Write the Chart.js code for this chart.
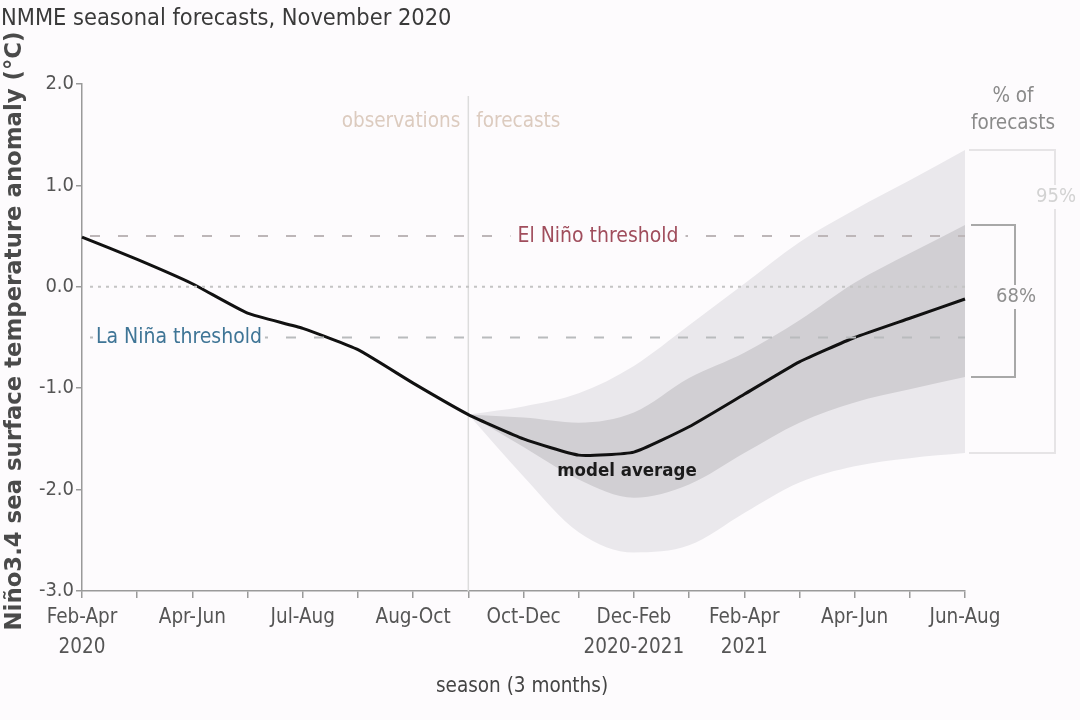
<!DOCTYPE html>
<html>
<head>
<meta charset="utf-8">
<script src="https://cdn.jsdelivr.net/npm/chart.js@4"></script>
<style>
  html, body { margin: 0; padding: 0; background: #fdfbfd; }
  #wrap { width: 1080px; height: 720px; }
</style>
</head>
<body>
<div id="wrap"><canvas id="chart" width="1080" height="720"></canvas></div>
<script>
// Seasons (3-month running), Feb-Apr 2020 .. Jun-Aug 2021
const seasons = ['FMA 2020', 'MAM', 'AMJ', 'MJJ', 'JJA', 'JAS', 'ASO', 'SON',
  'OND', 'NDJ', 'DJF', 'JFM', 'FMA 2021', 'MAM', 'AMJ', 'MJJ', 'JJA'];
const tickLabels = [['Feb-Apr', '2020'], '', 'Apr-Jun', '', 'Jul-Aug', '', 'Aug-Oct', '',
  'Oct-Dec', '', ['Dec-Feb', '2020-2021'], '', ['Feb-Apr', '2021'], '', 'Apr-Jun', '', 'Jun-Aug'];
const yTicks = [-3, -2, -1, 0, 1, 2];

// Model average (observations up to SON, forecasts after)
const modelAverage = [0.49, 0.27, 0.03, -0.26, -0.41, -0.62, -0.95, -1.26,
  -1.50, -1.66, -1.63, -1.38, -1.06, -0.74, -0.50, -0.31, -0.12];
// spread of the forecasts
const upper95 = [null, null, null, null, null, null, null, -1.26,
  -1.18, -1.05, -0.78, -0.38, 0.03, 0.44, 0.76, 1.05, 1.35];
const lower95 = [null, null, null, null, null, null, null, -1.26,
  -1.87, -2.42, -2.62, -2.55, -2.23, -1.93, -1.77, -1.69, -1.64];
const upper68 = [null, null, null, null, null, null, null, -1.26,
  -1.29, -1.34, -1.24, -0.90, -0.65, -0.33, 0.04, 0.33, 0.61];
const lower68 = [null, null, null, null, null, null, null, -1.26,
  -1.58, -1.90, -2.08, -1.95, -1.64, -1.34, -1.14, -1.01, -0.89];

const elNinoThreshold = 0.5;
const laNinaThreshold = -0.5;
const lastObserved = 7; // index of SON 2020

const FONT = "'DejaVu Sans Condensed', 'DejaVu Sans', sans-serif";
const WIDE = "'DejaVu Sans', sans-serif";
const BG = '#fdfbfd';

Chart.defaults.font.family = FONT;

function text(ctx, str, x, y, opt) {
  ctx.save();
  ctx.font = opt.font;
  ctx.textAlign = opt.align || 'center';
  ctx.textBaseline = 'middle';
  if (opt.bg) {
    const w = ctx.measureText(str).width;
    let x0 = x - w / 2;
    if (ctx.textAlign === 'left') x0 = x;
    if (ctx.textAlign === 'right') x0 = x - w;
    ctx.fillStyle = opt.bg;
    ctx.fillRect(x0 - (opt.padX || 4), y - 12, w + 2 * (opt.padX || 4), 24);
  }
  ctx.fillStyle = opt.color;
  ctx.fillText(str, x, y);
  ctx.restore();
}

// font size that makes str about `width` px wide
function fitFont(ctx, str, width, weight, family) {
  ctx.save();
  ctx.font = weight + ' 20px ' + family;
  const size = 20 * width / ctx.measureText(str).width;
  ctx.restore();
  return weight + ' ' + size.toFixed(1) + 'px ' + family;
}

function hline(ctx, area, y, dash, color, width) {
  ctx.save();
  ctx.strokeStyle = color;
  ctx.lineWidth = width;
  ctx.setLineDash(dash);
  ctx.beginPath();
  ctx.moveTo(area.left + 8, y);
  ctx.lineTo(area.right, y);
  ctx.stroke();
  ctx.restore();
}

const overlay = {
  id: 'overlay',
  beforeDatasetsDraw(chart) {
    const { ctx, chartArea: a, scales: { x } } = chart;
    const xd = x.getPixelForValue(lastObserved);
    ctx.save();
    ctx.strokeStyle = '#dcdcdc';
    ctx.lineWidth = 1.5;
    ctx.beginPath();
    ctx.moveTo(xd, 96);
    ctx.lineTo(xd, a.bottom);
    ctx.stroke();
    ctx.restore();
    text(ctx, 'observations', xd - 8, 122, { font: '20.5px ' + FONT, color: '#dccbbf', align: 'right' });
    text(ctx, 'forecasts', xd + 8, 122, { font: '20.5px ' + FONT, color: '#dccbbf', align: 'left' });
  },
  afterDatasetsDraw(chart) {
    const { ctx, chartArea: a, scales: { y } } = chart;
    hline(ctx, a, y.getPixelForValue(0), [3, 5], '#c4c4c4', 2);
    hline(ctx, a, y.getPixelForValue(elNinoThreshold), [10, 18], '#bdb6b8', 2);
    hline(ctx, a, y.getPixelForValue(laNinaThreshold), [10, 18], '#b9bbbd', 2);
    text(ctx, 'El Niño threshold', 598, y.getPixelForValue(elNinoThreshold),
      { font: '21px ' + FONT, color: '#a04d5c', bg: BG, padX: 7 });
    text(ctx, 'La Niña threshold', 96, y.getPixelForValue(laNinaThreshold),
      { font: '21px ' + FONT, color: '#3f7596', align: 'left', bg: BG, padX: 3 });
    text(ctx, 'model average', 627, 471, { font: 'bold 18.5px ' + FONT, color: '#1a1a1a' });
  },
  afterDraw(chart) {
    const { ctx, chartArea: a, scales: { y } } = chart;
    const last = seasons.length - 1;
    // title
    const title = 'NMME seasonal forecasts, November 2020';
    text(ctx, title, 1, 19, { font: fitFont(ctx, title, 450, 'normal', FONT), color: '#3a3a3a', align: 'left' });
    // y axis title
    const yTitle = 'Niño3.4 sea surface temperature anomaly (°C)';
    ctx.save();
    ctx.translate(15, 331);
    ctx.rotate(-Math.PI / 2);
    text(ctx, yTitle, 0, 0, { font: fitFont(ctx, yTitle, 598, '600', WIDE), color: '#4a4a4a' });
    ctx.restore();
    // x axis title
    text(ctx, 'season (3 months)', 522, 687, { font: '20.5px ' + FONT, color: '#444' });

    // % of forecasts brackets
    text(ctx, '% of', 1013, 97, { font: '20.5px ' + FONT, color: '#8a8a8a' });
    text(ctx, 'forecasts', 1013, 124, { font: '20.5px ' + FONT, color: '#8a8a8a' });
    const x0 = a.right + 4;
    const t95 = y.getPixelForValue(upper95[last]);
    const b95 = y.getPixelForValue(lower95[last]);
    const t68 = y.getPixelForValue(upper68[last]);
    const b68 = y.getPixelForValue(lower68[last]);
    ctx.save();
    ctx.lineWidth = 2;
    ctx.strokeStyle = '#e6e4e6';
    ctx.beginPath();
    ctx.moveTo(x0, t95); ctx.lineTo(1055, t95); ctx.lineTo(1055, b95); ctx.lineTo(x0, b95);
    ctx.stroke();
    ctx.strokeStyle = '#a8a8a8';
    ctx.beginPath();
    ctx.moveTo(x0 + 2, t68); ctx.lineTo(1015, t68); ctx.lineTo(1015, b68); ctx.lineTo(x0 + 2, b68);
    ctx.stroke();
    ctx.restore();
    text(ctx, '95%', 1056, 197, { font: '20px ' + FONT, color: '#d2d2d2', bg: BG, padX: 1 });
    text(ctx, '68%', 1016, 297, { font: '20px ' + FONT, color: '#8f8f8f', bg: BG, padX: 1 });
  }
};

new Chart(document.getElementById('chart'), {
  type: 'line',
  data: {
    labels: seasons,
    datasets: [
      {
        label: 'model average', data: modelAverage, borderColor: '#111', borderWidth: 3,
        pointRadius: 0, tension: 0.15, fill: false, order: 0
      },
      {
        label: '68% upper', data: upper68, borderWidth: 0, borderColor: 'rgba(0,0,0,0)',
        backgroundColor: '#d1cfd3', pointRadius: 0, fill: '+1', cubicInterpolationMode: 'monotone', order: 1
      },
      {
        label: '68% lower', data: lower68, borderWidth: 0, borderColor: 'rgba(0,0,0,0)',
        pointRadius: 0, fill: false, cubicInterpolationMode: 'monotone', order: 1
      },
      {
        label: '95% upper', data: upper95, borderWidth: 0, borderColor: 'rgba(0,0,0,0)',
        backgroundColor: '#eae8ec', pointRadius: 0, fill: '+1', cubicInterpolationMode: 'monotone', order: 2
      },
      {
        label: '95% lower', data: lower95, borderWidth: 0, borderColor: 'rgba(0,0,0,0)',
        pointRadius: 0, fill: false, cubicInterpolationMode: 'monotone', order: 2
      }
    ]
  },
  options: {
    responsive: false,
    animation: false,
    layout: { padding: { top: 84, right: 115, left: 0, bottom: 0 } },
    plugins: { legend: { display: false }, tooltip: { enabled: false } },
    scales: {
      x: {
        type: 'category',
        afterFit(scale) { scale.height = 129; },
        grid: { drawOnChartArea: false, drawTicks: true, tickLength: 7, color: '#9a9a9a', lineWidth: 1.5 },
        border: { color: '#9a9a9a', width: 1.5 },
        ticks: {
          autoSkip: false, maxRotation: 0, padding: 5,
          font: { size: 20.5, lineHeight: 1.45 }, color: '#555',
          callback: (v, i) => tickLabels[i]
        }
      },
      y: {
        min: yTicks[0], max: yTicks[yTicks.length - 1],
        afterFit(scale) { scale.width = 82; },
        afterBuildTicks(scale) { scale.ticks = yTicks.map(v => ({ value: v })); },
        grid: { drawOnChartArea: false, drawTicks: true, tickLength: 6, color: '#9a9a9a', lineWidth: 1.5 },
        border: { color: '#9a9a9a', width: 1.5 },
        ticks: {
          padding: 2, font: { size: 20 }, color: '#555',
          callback: v => v.toFixed(1)
        }
      }
    }
  },
  plugins: [overlay]
});
</script>
</body>
</html>
